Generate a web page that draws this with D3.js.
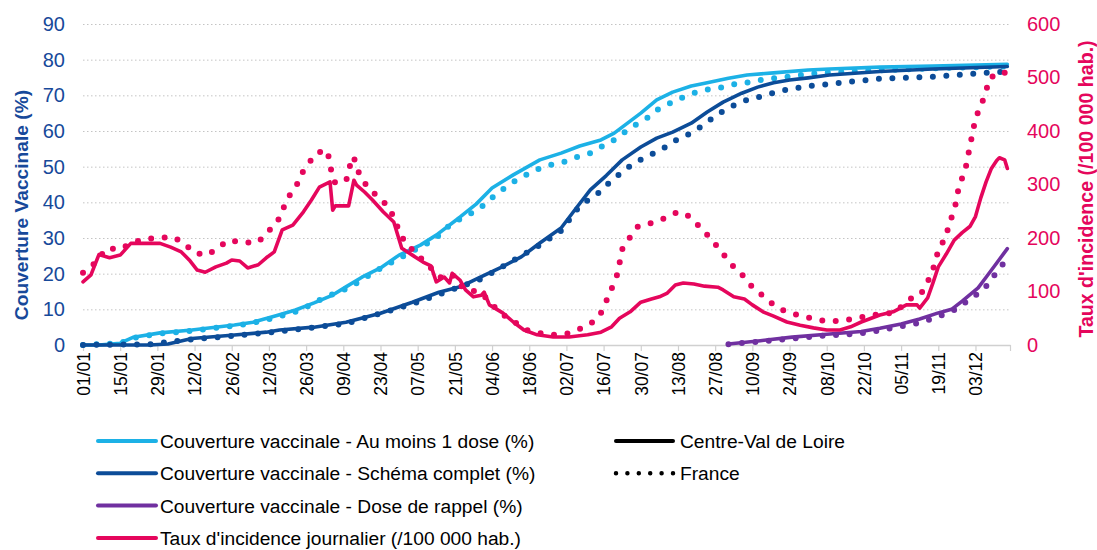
<!DOCTYPE html>
<html>
<head>
<meta charset="utf-8">
<script src="https://cdn.jsdelivr.net/npm/d3@7"></script>
<style>
  body { margin: 0; background: #fff; }
  svg { font-family: "Liberation Sans", Arial, sans-serif; }
</style>
</head>
<body>
<div id="chart"></div>
<script>
// days are counted from 01/01/2021
var xTickLabels = ["01/01","15/01","29/01","12/02","26/02","12/03","26/03","09/04","23/04","07/05",
  "21/05","04/06","18/06","02/07","16/07","30/07","13/08","27/08","10/09","24/09","08/10","22/10",
  "05/11","19/11","03/12"];
var leftTicks = [0,10,20,30,40,50,60,70,80,90];
var rightTicks = [0,100,200,300,400,500,600];

// Couverture vaccinale - au moins 1 dose (%)
var doseCvl = [[0,0],[6,0],[14,0.5],[19,2.2],[29,3.4],[41,4.2],[57,5.6],[64,6.4],[73,8.3],[80,9.8],
  [87,11.8],[94,14],[99,16.3],[105,19],[112,21.6],[119,25.2],[127,28],[133,30.8],[142,35.9],[148,39.5],
  [154,44],[162,47.7],[172,51.9],[180,53.8],[187,55.8],[195,57.5],[200,59.4],[205,62.2],[210,65],
  [216,68.7],[222,70.9],[229,72.6],[235,73.5],[243,74.8],[250,75.7],[260,76.3],[273,77.1],[281,77.4],
  [300,77.9],[320,78.2],[348,78.7]];
var doseFr = [[0,0],[14,0.5],[19,2],[29,3.2],[41,4],[57,5.4],[64,6.2],[74,8],[82,9.8],[90,13],
  [100,16],[112,21.5],[127,27.5],[132,29.4],[139,34.2],[145,36.4],[150,38.7],[156,42.6],[162,45.7],
  [170,49],[176,50.5],[181,51.3],[186,52.7],[191,53.8],[195,55.5],[200,57.5],[204,59.7],[209,62.2],
  [213,63.9],[217,66.4],[222,68.1],[226,69.5],[231,70.9],[236,71.8],[241,72.3],[247,73.5],[252,73.7],
  [257,74.6],[262,74.9],[267,75.4],[273,76],[278,76.3],[300,77],[320,77.6],[348,78.1]];

// Couverture vaccinale - schéma complet (%)
var completCvl = [[0,0],[25,0],[32,0.3],[41,1.8],[57,2.8],[69,3.6],[74,4.2],[87,5],[99,6.4],[112,8.9],
  [124,12],[134,14.8],[142,16.3],[149,18.8],[157,21.6],[165,24.7],[172,28.6],[180,32.8],[186,38.7],
  [191,43.5],[197,47.5],[203,51.9],[210,55.5],[216,58],[222,59.7],[229,62.2],[235,65.3],[241,68.1],
  [248,70.6],[254,72.3],[260,73.5],[266,74.3],[273,74.9],[281,75.7],[300,76.7],[320,77.4],[348,78.1]];
var completFr = [[0,0],[25,0.2],[41,1.6],[57,2.6],[74,3.8],[99,6],[124,11.5],[150,18.5],[172,28],
  [180,32],[186,38],[190,40.6],[194,42.6],[198,45.4],[202,47.9],[206,50.2],[211,52.4],[215,53.8],
  [220,55.8],[224,57.8],[229,59.4],[233,61.4],[237,63.6],[241,65.6],[246,67.6],[251,69],[256,69.8],
  [261,70.9],[266,71.8],[271,72.3],[276,72.9],[282,73.2],[287,73.7],[292,74],[298,74.6],[308,74.9],
  [318,75.1],[329,75.7],[339,76.3],[348,76.6]];

// Couverture vaccinale - dose de rappel (%)
var rappelCvl = [[243,0.3],[255,1.2],[267,2.2],[280,3],[293,3.8],[300,4.7],[308,5.9],[315,7.3],
  [322,9],[327,10],[331,12.3],[337,16],[340,19],[344,23],[348,27]];
var rappelFr = [[243,0.2],[255,1],[267,1.8],[280,2.7],[291,3.1],[296,3.6],[301,4.2],[306,5],[311,5.6],
  [316,6.4],[321,7.8],[326,9],[330,10.6],[334,13],[339,15.4],[342,18.5],[345,21.3],[348,24.4]];

// Taux d'incidence journalier (/100 000 hab.)
var incidCvl = [[0,118],[3,131],[6,169],[10,163],[14,168],[18,190],[23,190],[29,190],[33,183],[37,174],
  [40,159],[43,140],[46,136],[50,146],[54,153],[56,159],[59,157],[62,144],[66,150],[69,163],[72,174],
  [75,215],[79,224],[83,249],[86,271],[89,295],[93,305],[94,252],[95,260],[100,260],[102,308],[103,299],
  [106,286],[109,271],[113,249],[117,230],[120,181],[124,168],[128,155],[131,148],[133,118],[136,127],
  [138,116],[139,134],[142,121],[144,103],[147,90],[150,93],[151,99],[153,75],[158,60],[162,43],[166,28],
  [171,19],[177,15],[183,15],[190,19],[195,24],[199,34],[202,50],[206,62],[210,80],[214,86],[217,90],
  [220,97],[223,112],[226,116],[230,114],[234,110],[239,108],[241,103],[245,90],[249,86],[252,75],
  [256,62],[260,54],[265,43],[270,37],[275,32],[280,28],[285,28],[289,34],[293,43],[300,56],[305,62],
  [310,75],[314,75],[315,69],[318,88],[320,116],[322,146],[325,170],[328,196],[331,210],[334,222],
  [336,240],[338,275],[340,305],[342,330],[344,345],[345,350],[347,346],[348,330]];
var incidFr = [[0,135],[4,151],[9,181],[14,179],[18,190],[23,198],[28,200],[34,202],[38,190],[42,172],
  [47,168],[51,183],[55,196],[60,191],[66,192],[69,209],[73,228],[75,250],[77,275],[80,293],[82,318],
  [85,340],[88,359],[92,364],[94,312],[95,303],[99,307],[100,320],[101,350],[102,351],[103,330],
  [106,303],[109,286],[113,269],[116,249],[120,202],[123,183],[127,163],[135,125],[139,131],[143,107],
  [150,97],[157,60],[163,41],[167,28],[172,22],[177,19],[183,22],[188,32],[192,43],[195,60],[197,82],
  [199,105],[201,130],[202,153],[203,179],[206,202],[209,222],[214,228],[219,237],[224,249],[228,241],
  [232,222],[235,206],[239,183],[242,164],[245,146],[249,127],[252,108],[256,92],[260,75],[264,64],
  [269,56],[275,49],[280,44],[285,45],[290,49],[295,54],[300,58],[305,60],[308,71],[312,88],[315,93],
  [317,107],[319,129],[321,155],[322,179],[325,202],[326,228],[328,249],[329,277],[330,301],[332,323],
  [333,348],[334,374],[335,398],[336,424],[338,447],[340,473],[341,497],[345,510],[348,508]];

var colors = { dose: "#1cb1e6", complet: "#0c4c98", rappel: "#7030a0", incid: "#e5065c" };
var axisBlue = "#17499a";

var svgWidth = 1097, svgHeight = 550;
var svg = d3.select("#chart").append("svg")
  .attr("width", svgWidth)
  .attr("height", svgHeight);

var x0 = 83, x1 = 1010, yTop = 24, yBottom = 345;
var parseDay = d3.timeParse("%d/%m/%Y");
var start = parseDay("01/01/2021");
var tickDays = xTickLabels.map(function(l) { return d3.timeDay.count(start, parseDay(l + "/2021")); });

var xScale = d3.scaleLinear().domain([0, 349]).range([x0, x1]);
var yLeft = d3.scaleLinear().domain([0, 90]).range([yBottom, yTop]);
var yRight = d3.scaleLinear().domain([0, 600]).range([yBottom, yTop]);

// gridlines
svg.append("g")
  .attr("transform", `translate(${x0},0)`)
  .call(d3.axisLeft(yLeft).tickValues(leftTicks.slice(1)).tickSize(-(x1 - x0)).tickFormat(""))
  .call(g => g.select(".domain").remove())
  .selectAll("line")
  .attr("stroke", "#c4c4c4")
  .attr("stroke-width", 1)
  .attr("stroke-dasharray", "1.5,2.5");

// left axis labels
svg.append("g")
  .attr("transform", "translate(65,0)")
  .call(d3.axisLeft(yLeft).tickValues(leftTicks).tickSize(0).tickPadding(0))
  .call(g => g.select(".domain").remove())
  .selectAll("text")
  .attr("font-family", "Liberation Sans, Arial, sans-serif")
  .attr("font-size", "20px")
  .attr("fill", axisBlue);

// right axis labels
svg.append("g")
  .attr("transform", "translate(1027,0)")
  .call(d3.axisRight(yRight).tickValues(rightTicks).tickSize(0).tickPadding(0))
  .call(g => g.select(".domain").remove())
  .selectAll("text")
  .attr("font-family", "Liberation Sans, Arial, sans-serif")
  .attr("font-size", "20px")
  .attr("fill", colors.incid);

// x axis
var xAxis = svg.append("g")
  .attr("transform", `translate(0,${yBottom})`)
  .call(d3.axisBottom(xScale).tickValues(tickDays.concat([349]))
    .tickFormat(function(d, i) { return xTickLabels[i] || ""; }).tickSize(6).tickSizeOuter(0));
xAxis.select(".domain").attr("stroke", "#d0d0d0").attr("stroke-width", 1.5);
xAxis.selectAll("line").attr("stroke", "#d0d0d0").attr("stroke-width", 1.2);
xAxis.selectAll("text")
  .attr("transform", "rotate(-90)")
  .attr("text-anchor", "end")
  .attr("x", -7)
  .attr("y", 0)
  .attr("dy", "0.36em")
  .attr("font-family", "Liberation Sans, Arial, sans-serif")
  .attr("font-size", "17.5px")
  .attr("fill", "#000");

// axis titles
svg.append("text")
  .attr("transform", "translate(28,205) rotate(-90)")
  .attr("text-anchor", "middle")
  .attr("font-size", "19.2px")
  .attr("font-weight", 700)
  .attr("fill", axisBlue)
  .text("Couverture Vaccinale (%)");

svg.append("text")
  .attr("transform", "translate(1093,189) rotate(-90)")
  .attr("text-anchor", "middle")
  .attr("font-size", "19.6px")
  .attr("font-weight", 700)
  .attr("fill", colors.incid)
  .text("Taux d'incidence (/100 000 hab.)");

var lineLeft = d3.line().x(d => xScale(d[0])).y(d => yLeft(d[1])).curve(d3.curveLinear);
var lineRight = d3.line().x(d => xScale(d[0])).y(d => yRight(d[1])).curve(d3.curveLinear);

function drawSolid(data, line, color) {
  svg.append("path")
    .datum(data)
    .attr("d", line)
    .attr("fill", "none")
    .attr("stroke", color)
    .attr("stroke-width", 3.6)
    .attr("stroke-linejoin", "round")
    .attr("stroke-linecap", "round");
}
function drawDotted(data, line, color) {
  svg.append("path")
    .datum(data)
    .attr("d", line)
    .attr("fill", "none")
    .attr("stroke", color)
    .attr("stroke-width", 6)
    .attr("stroke-dasharray", "0,13.5")
    .attr("stroke-linecap", "round");
}

drawDotted(doseFr, lineLeft, colors.dose);
drawSolid(doseCvl, lineLeft, colors.dose);
drawDotted(completFr, lineLeft, colors.complet);
drawSolid(completCvl, lineLeft, colors.complet);
drawDotted(rappelFr, lineLeft, colors.rappel);
drawSolid(rappelCvl, lineLeft, colors.rappel);
drawDotted(incidFr, lineRight, colors.incid);
drawSolid(incidCvl, lineRight, colors.incid);

// legend
var legendSeries = ["Couverture vaccinale - Au moins 1 dose (%)", "Couverture vaccinale - Schéma complet (%)",
  "Couverture vaccinale - Dose de rappel (%)", "Taux d'incidence journalier (/100 000 hab.)"];
var legendColors = [colors.dose, colors.complet, colors.rappel, colors.incid];
var legendStyles = ["Centre-Val de Loire", "France"];

var legend = svg.append("g");
legendSeries.forEach(function(name, i) {
  var y = 441 + i * 32.3;
  legend.append("line")
    .attr("x1", 98).attr("x2", 156).attr("y1", y).attr("y2", y)
    .attr("stroke", legendColors[i]).attr("stroke-width", 4).attr("stroke-linecap", "round");
  legend.append("text")
    .attr("x", 160).attr("y", y + 7)
    .attr("font-size", "19.2px")
    .attr("fill", "#000")
    .text(name);
});
legendStyles.forEach(function(name, i) {
  var y = 441 + i * 32.3;
  legend.append("line")
    .attr("x1", 616).attr("x2", 673).attr("y1", y).attr("y2", y)
    .attr("stroke", "#000")
    .attr("stroke-width", i === 0 ? 4 : 4.5)
    .attr("stroke-linecap", "round")
    .attr("stroke-dasharray", i === 0 ? null : "0,11.4");
  legend.append("text")
    .attr("x", 680).attr("y", y + 7)
    .attr("font-size", "19.2px")
    .attr("fill", "#000")
    .text(name);
});
</script>
</body>
</html>
